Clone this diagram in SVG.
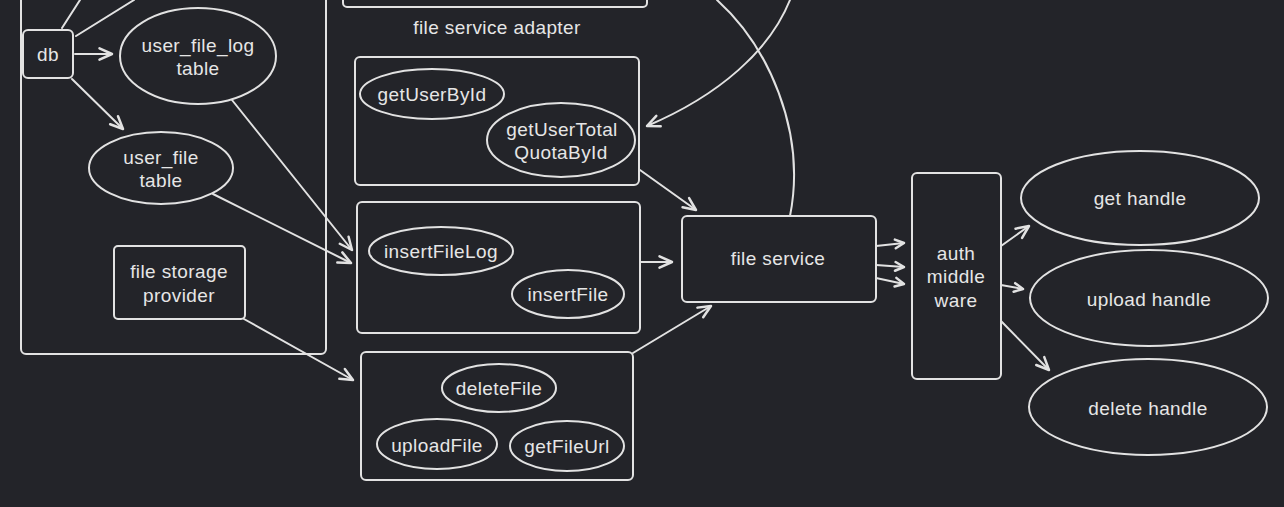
<svg xmlns="http://www.w3.org/2000/svg" width="1284" height="507" viewBox="0 0 1284 507">
<defs>
<marker id="ah" markerUnits="userSpaceOnUse" markerWidth="20" markerHeight="20" viewBox="-14 -8 16 16" refX="0" refY="0" orient="auto">
<path d="M-10,-4.5 L0,0 L-10,4.5" fill="none" stroke="#e2e2e2" stroke-width="2" stroke-linecap="round" stroke-linejoin="round"/>
</marker>
<marker id="ahs" markerUnits="userSpaceOnUse" markerWidth="20" markerHeight="20" viewBox="-14 -8 16 16" refX="0" refY="0" orient="auto">
<path d="M-7,-3.5 L0,0 L-7,3.5" fill="none" stroke="#e2e2e2" stroke-width="2" stroke-linecap="round" stroke-linejoin="round"/>
</marker>
<style>
.s{fill:none;stroke:#e2e2e2;stroke-width:2;stroke-linecap:round;stroke-linejoin:round}
.n{fill:#232429;stroke:#e2e2e2;stroke-width:2}
.c{fill:none;stroke:#e2e2e2;stroke-width:2;stroke-linecap:round;marker-end:url(#ah)}
.cs{fill:none;stroke:#e2e2e2;stroke-width:2;stroke-linecap:round;marker-end:url(#ahs)}
.t{fill:#e6e6e6;font-family:"Liberation Sans",Arial,sans-serif;font-size:19px;letter-spacing:0.4px;text-anchor:middle}
</style>
</defs>
<rect width="1284" height="507" fill="#232429"/>

<g id="adapter-container">
<rect class="s" x="21" y="-20" width="305" height="374" rx="5"/>
</g>
<g id="top-box">
<rect class="s" x="343" y="-20" width="304" height="27" rx="4"/>
</g>
<g id="label-adapter">
<text class="t" x="497" y="34">file service adapter</text>
</g>

<g id="connectors">
<path class="s" d="M62,28 L80,0"/>
<path class="s" d="M76,36 L134,0"/>
<path class="c" d="M75,54 L112,54"/>
<path class="c" d="M72,79 L123,129"/>
<path class="c" d="M232,100 L352,250"/>
<path class="c" d="M213,194 L351,263"/>
<path class="c" d="M244,319 L353,380"/>
<path class="c" d="M641,262 L672,262"/>
<path class="c" d="M633,353 L711,306"/>
<path class="c" d="M640,170 L696,210"/>
<path class="s" d="M717,0 C767,45 807,130 790,216"/>
<path class="c" d="M790,0 C770,50 720,95 647,126"/>
<path class="cs" d="M876,246 L904,243"/>
<path class="cs" d="M876,265 L904,267"/>
<path class="cs" d="M876,278 L904,284"/>
<path class="c" d="M1001,246 L1029,226"/>
<path class="cs" d="M1001,285 L1023,289"/>
<path class="c" d="M1001,321 L1049,370"/>
</g>

<g id="db">
<rect class="n" x="23" y="30" width="50" height="48" rx="5"/>
<text class="t" x="48" y="61">db</text>
</g>
<g id="user-file-log-table">
<ellipse class="n" cx="198" cy="56" rx="78" ry="48"/>
<text class="t" x="198" y="52">user_file_log<tspan x="198" dy="23">table</tspan></text>
</g>
<g id="user-file-table">
<ellipse class="n" cx="161" cy="168" rx="72" ry="36"/>
<text class="t" x="161" y="164">user_file<tspan x="161" dy="23">table</tspan></text>
</g>
<g id="file-storage-provider">
<rect class="n" x="114" y="246" width="131" height="73" rx="4"/>
<text class="t" x="179" y="278">file storage<tspan x="179" dy="24">provider</tspan></text>
</g>

<g id="user-adapter">
<rect class="n" x="355" y="57" width="284" height="128" rx="5"/>
</g>
<g id="getUserById">
<ellipse class="n" cx="432" cy="94" rx="72" ry="25"/>
<text class="t" x="432" y="101">getUserById</text>
</g>
<g id="getUserTotalQuotaById">
<ellipse class="n" cx="561" cy="140" rx="74" ry="37"/>
<text class="t" x="562" y="136">getUserTotal<tspan x="561" dy="23">QuotaById</tspan></text>
</g>

<g id="file-adapter">
<rect class="n" x="357" y="202" width="283" height="131" rx="5"/>
</g>
<g id="insertFileLog">
<ellipse class="n" cx="441" cy="251" rx="72" ry="24"/>
<text class="t" x="441" y="258">insertFileLog</text>
</g>
<g id="insertFile">
<ellipse class="n" cx="568" cy="294" rx="56" ry="24"/>
<text class="t" x="568" y="301">insertFile</text>
</g>

<g id="storage-adapter">
<rect class="n" x="361" y="352" width="272" height="128" rx="5"/>
</g>
<g id="deleteFile">
<ellipse class="n" cx="499" cy="388" rx="57" ry="24"/>
<text class="t" x="499" y="395">deleteFile</text>
</g>
<g id="uploadFile">
<ellipse class="n" cx="437" cy="444" rx="60" ry="25"/>
<text class="t" x="437" y="452">uploadFile</text>
</g>
<g id="getFileUrl">
<ellipse class="n" cx="567" cy="446" rx="57" ry="25"/>
<text class="t" x="567" y="453">getFileUrl</text>
</g>

<g id="file-service">
<rect class="n" x="682" y="216" width="194" height="86" rx="5"/>
<text class="t" x="778" y="265">file service</text>
</g>
<g id="auth-middleware">
<rect class="n" x="912" y="173" width="89" height="206" rx="5"/>
<text class="t" x="956" y="260">auth<tspan x="956" dy="23">middle</tspan><tspan x="956" dy="24">ware</tspan></text>
</g>
<g id="get-handle">
<ellipse class="n" cx="1140" cy="198" rx="119" ry="47"/>
<text class="t" x="1140" y="205">get handle</text>
</g>
<g id="upload-handle">
<ellipse class="n" cx="1149" cy="298" rx="119" ry="48"/>
<text class="t" x="1149" y="306">upload handle</text>
</g>
<g id="delete-handle">
<ellipse class="n" cx="1148" cy="407" rx="119" ry="48"/>
<text class="t" x="1148" y="415">delete handle</text>
</g>
</svg>
